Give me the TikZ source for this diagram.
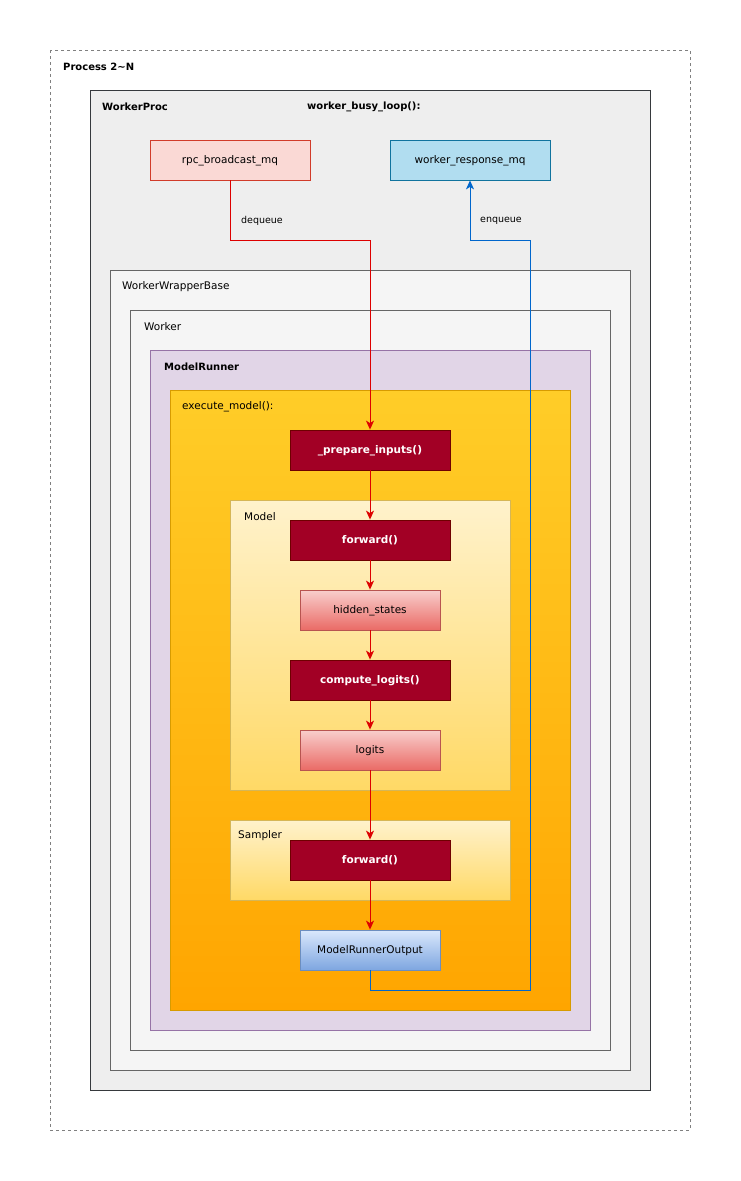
\documentclass[tikz,border=0pt]{standalone}
\usepackage{fontspec}
\setmainfont{DejaVu Sans}
\usetikzlibrary{arrows.meta}
\definecolor{procgray}{HTML}{EEEEEE}
\definecolor{procstroke}{HTML}{36393D}
\definecolor{wrapfill}{HTML}{F5F5F5}
\definecolor{wrapstroke}{HTML}{666666}
\definecolor{mrfill}{HTML}{E1D5E7}
\definecolor{mrstroke}{HTML}{9673A6}
\definecolor{exectop}{HTML}{FFCD28}
\definecolor{execbot}{HTML}{FFA500}
\definecolor{execstroke}{HTML}{D79B00}
\definecolor{subtop}{HTML}{FFF2CC}
\definecolor{subbot}{HTML}{FFD966}
\definecolor{substroke}{HTML}{D6B656}
\definecolor{fnfill}{HTML}{A20025}
\definecolor{fnstroke}{HTML}{6F0000}
\definecolor{redtop}{HTML}{F8CECC}
\definecolor{redbot}{HTML}{EA6B66}
\definecolor{redstroke}{HTML}{B85450}
\definecolor{bluetop}{HTML}{DAE8FC}
\definecolor{bluebot}{HTML}{7EA6E0}
\definecolor{bluestroke}{HTML}{6C8EBF}
\definecolor{rpcfill}{HTML}{FAD9D5}
\definecolor{rpcstroke}{HTML}{D13B2A}
\definecolor{respfill}{HTML}{B1DDF0}
\definecolor{respstroke}{HTML}{10739E}
\definecolor{flowred}{HTML}{DD0000}
\definecolor{flowblue}{HTML}{0066CC}
\tikzset{
  box/.style={draw, line width=0.8pt, inner sep=0pt},
  lbl/.style={anchor=west, font=\fontsize{10.5}{12}\selectfont, inner sep=0pt},
  blbl/.style={lbl, font=\fontsize{10}{12}\selectfont\bfseries},
  centred/.style={text height=8pt, text depth=2pt},
  fnbox/.style={centred, draw=fnstroke, fill=fnfill, line width=0.8pt, minimum width=160pt, minimum height=40pt, text=white, font=\fontsize{10.5}{12}\selectfont\bfseries},
  databox/.style={centred, draw=redstroke, top color=redtop, bottom color=redbot, line width=0.8pt, minimum width=140pt, minimum height=40pt, font=\fontsize{10.5}{12}\selectfont},
  outbox/.style={centred, draw=bluestroke, top color=bluetop, bottom color=bluebot, line width=0.8pt, minimum width=140pt, minimum height=40pt, font=\fontsize{10.5}{12}\selectfont},
  mqbox/.style={centred, line width=0.8pt, minimum width=160pt, minimum height=40pt, font=\fontsize{10.5}{12}\selectfont},
  redflow/.style={draw=flowred, line width=0.9pt, -{Stealth[length=9pt,width=8pt,inset=2.5pt]}},
  blueflow/.style={draw=flowblue, line width=0.9pt, -{Stealth[length=9pt,width=8pt,inset=2.5pt]}},
  elbl/.style={font=\fontsize{9.5}{11}\selectfont, inner sep=1pt}
}
\begin{document}
\begin{tikzpicture}[x=1pt,y=-1pt]
\useasboundingbox (0,0) rectangle (741,1181);
\fill[white] (0,0) rectangle (741,1181);
% Process
\draw[gray, dashed, line width=0.6pt] (50,50) rectangle (690,1130);
\node[blbl] (proclbl) at (63,67) {Process 2\textasciitilde N};
% WorkerProc
\draw[box, draw=procstroke, fill=procgray] (90,90) rectangle (650,1090);
\node[blbl] (wplbl) at (102,107) {WorkerProc};
\node[blbl] (wbl) at (307,107) {worker\_busy\_loop():};
\node[mqbox, draw=rpcstroke, fill=rpcfill] (rpc) at (230,160) {rpc\_broadcast\_mq};
\node[mqbox, draw=respstroke, fill=respfill] (resp) at (470,160) {worker\_response\_mq};
% WorkerWrapperBase
\draw[box, draw=wrapstroke, fill=wrapfill] (110,270) rectangle (630,1070);
\node[lbl] (wwblbl) at (122,287) {WorkerWrapperBase};
\draw[box, draw=wrapstroke, fill=wrapfill] (130,310) rectangle (610,1050);
\node[lbl] (wklbl) at (144,327) {Worker};
\draw[box, draw=mrstroke, fill=mrfill] (150,350) rectangle (590,1030);
\node[blbl] (mrlbl) at (164,367) {ModelRunner};
\draw[box, draw=execstroke, top color=exectop, bottom color=execbot] (170,390) rectangle (570,1010);
\node[lbl] (exlbl) at (182,407) {execute\_model():};
% Model
\draw[box, draw=substroke, top color=subtop, bottom color=subbot] (230,500) rectangle (510,790);
\node[lbl] (mlbl) at (244,517) {Model};
% Sampler
\draw[box, draw=substroke, top color=subtop, bottom color=subbot] (230,820) rectangle (510,900);
\node[lbl] (slbl) at (238,836) {Sampler};
% functions
\node[fnbox] (prep) at (370,450) {\_prepare\_inputs()};
\node[fnbox] (fwd) at (370,540) {forward()};
\node[databox] (hid) at (370,610) {hidden\_states};
\node[fnbox] (comp) at (370,680) {compute\_logits()};
\node[databox] (logits) at (370,750) {logits};
\node[fnbox] (sfwd) at (370,860) {forward()};
\node[outbox] (mro) at (370,950) {ModelRunnerOutput};
% flows
\coordinate (d1) at (230,240);
\coordinate (d2) at (370,240);
\draw[redflow] (rpc.south) -- (d1) -- (d2) -- (prep.north);
\node[elbl] (deq) at (262,221) {dequeue};
\draw[redflow] (prep) -- (fwd);
\draw[redflow] (fwd) -- (hid);
\draw[redflow] (hid) -- (comp);
\draw[redflow] (comp) -- (logits);
\draw[redflow] (logits) -- (sfwd);
\draw[redflow] (sfwd) -- (mro);
\coordinate (e1) at (370,990);
\coordinate (e2) at (530,990);
\coordinate (e3) at (530,240);
\coordinate (e4) at (470,240);
\draw[blueflow] (mro.south) -- (e1) -- (e2) -- (e3) -- (e4) -- (resp.south);
\node[elbl] (enq) at (501,221) {enqueue};
\end{tikzpicture}
\end{document}
